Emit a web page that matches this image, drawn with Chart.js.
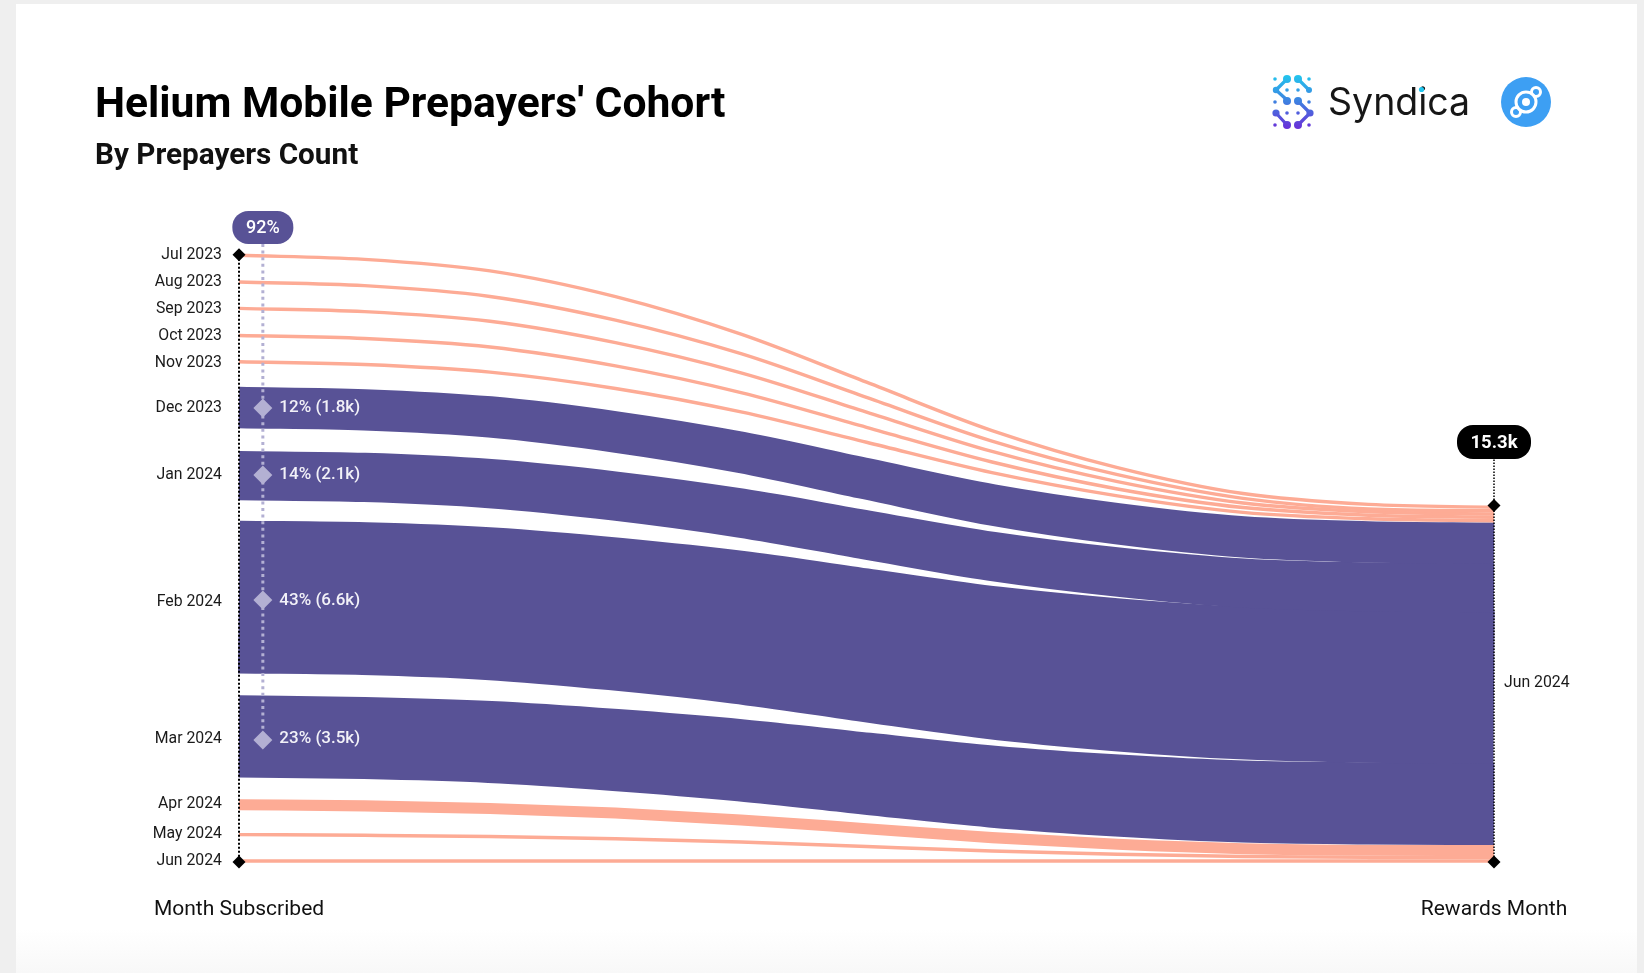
<!DOCTYPE html>
<html>
<head>
<meta charset="utf-8">
<title>Helium Mobile Prepayers' Cohort</title>
<script src="https://cdn.jsdelivr.net/npm/chart.js@4"></script>
<style>
    html, body { margin: 0; padding: 0; width: 1644px; height: 973px; overflow: hidden; background: #efefef; font-family: Roboto, sans-serif; }
    #card { position: absolute; left: 16px; top: 4px; width: 1621px; height: 969px; background: linear-gradient(#fff 0, #fff 925px, #f8f8f8 969px); }
    #graph { position: absolute; left: 0; top: 0; }
    h1 { position: absolute; left: 95px; top: 75px; margin: 0; font-size: 42.6px; line-height: 54px; font-weight: 700; color: #000; white-space: nowrap; }
    h2 { position: absolute; left: 95px; top: 135px; margin: 0; font-size: 29.7px; line-height: 38px; font-weight: 700; color: #111; white-space: nowrap; }
    #logos { position: absolute; left: 1260px; top: 65px; }
</style>
</head>
<body>
<div id="card"></div>
<canvas id="graph" width="1644" height="973"></canvas>
<h1>Helium Mobile Prepayers' Cohort</h1>
<h2>By Prepayers Count</h2>
<svg id="logos" width="300" height="80" viewBox="0 0 300 80">
    <defs>
        <linearGradient id="syn" gradientUnits="userSpaceOnUse" x1="30" y1="10" x2="30" y2="64">
            <stop offset="0" stop-color="#22c6ee"/>
            <stop offset="0.5" stop-color="#3f7fe0"/>
            <stop offset="1" stop-color="#6a2fd8"/>
        </linearGradient>
    </defs>
    <g fill="none" stroke="url(#syn)" stroke-width="3.2" stroke-linecap="round" stroke-linejoin="round">
        <path d="M27 14 L16 25 L27 35"/>
        <path d="M38 14 L49 25"/>
        <path d="M38 36 L50 48 L38 60"/>
        <path d="M16 48 L27 60"/>
    </g>
    <g fill="url(#syn)">
        <circle cx="27" cy="14" r="4"/><circle cx="38" cy="14" r="4"/>
        <circle cx="16" cy="25" r="3.2"/><circle cx="49" cy="25" r="3"/>
        <circle cx="27" cy="36" r="4"/><circle cx="38" cy="36" r="4"/>
        <circle cx="16" cy="48" r="3.6"/><circle cx="50" cy="48" r="3.6"/>
        <circle cx="27" cy="60" r="4"/><circle cx="38" cy="60" r="4"/>
        <circle cx="15" cy="14" r="1.8"/><circle cx="49" cy="14" r="1.8"/>
        <circle cx="15" cy="37" r="1.8"/><circle cx="49" cy="37" r="1.8"/>
        <circle cx="15" cy="60" r="1.8"/><circle cx="49" cy="60" r="1.8"/>
        <circle cx="27" cy="25" r="1.8"/><circle cx="38" cy="25" r="1.8"/>
        <circle cx="27" cy="48" r="1.8"/><circle cx="38" cy="48" r="1.8"/>
    </g>
    <text x="68" y="50" font-family="Inter, sans-serif" font-size="37.5" fill="#161616">Syndica</text>
    <circle cx="161.5" cy="24.5" r="2.6" fill="#22c6ee"/>
    <circle cx="266" cy="37" r="25" fill="#3d9ff3"/>
    <g fill="#3d9ff3" stroke="#fff" stroke-width="3">
        <circle cx="276" cy="27" r="4.5"/>
        <circle cx="256" cy="47" r="4.5"/>
        <circle cx="266" cy="37" r="10"/>
        <circle cx="266" cy="37" r="4" fill="#fff" stroke="none"/>
    </g>
</svg>
<script>
// x stations in percent of the way from subscribe month to rewards month
const stations = [0, 10, 20, 30, 40, 50, 60, 70, 80, 90, 100];

const months = ['Jul 2023', 'Aug 2023', 'Sep 2023', 'Oct 2023', 'Nov 2023', 'Dec 2023', 'Jan 2024', 'Feb 2024', 'Mar 2024', 'Apr 2024', 'May 2024', 'Jun 2024'];

// prepayers in each cohort, thousands
const counts = [0.15, 0.15, 0.15, 0.15, 0.15, 1.8, 2.14, 6.64, 3.57, 0.48, 0.15, 0.15];

// centre of each flow, thousands above the baseline
const jul23 = [26.38, 26.20, 25.70, 24.58, 22.95, 20.86, 18.76, 17.15, 16.02, 15.55, 15.42];
const aug23 = [25.22, 25.06, 24.59, 23.56, 22.10, 20.20, 18.30, 16.84, 15.81, 15.35, 15.27];
const sep23 = [24.07, 23.93, 23.51, 22.58, 21.27, 19.56, 17.85, 16.54, 15.61, 15.23, 15.13];
const oct23 = [22.89, 22.76, 22.39, 21.57, 20.41, 18.90, 17.39, 16.22, 15.41, 15.08, 14.99];
const nov23 = [21.75, 21.63, 21.30, 20.59, 19.57, 18.25, 16.93, 15.92, 15.20, 14.92, 14.84];
const dec23 = [19.76, 19.66, 19.35, 18.70, 17.81, 16.66, 15.53, 14.71, 14.14, 13.92, 13.86];
const jan24 = [16.80, 16.72, 16.45, 15.91, 15.17, 14.22, 13.29, 12.61, 12.13, 11.96, 11.93];
const feb24 = [11.52, 11.45, 11.23, 10.78, 10.19, 9.42, 8.67, 8.14, 7.78, 7.63, 7.59];
const mar24 = [5.46, 5.39, 5.22, 4.87, 4.42, 3.84, 3.28, 2.89, 2.63, 2.55, 2.52];
const apr24 = [2.49, 2.44, 2.33, 2.13, 1.83, 1.45, 1.06, 0.77, 0.58, 0.51, 0.50];
const may24 = [1.19, 1.16, 1.11, 1.01, 0.87, 0.67, 0.48, 0.34, 0.24, 0.20, 0.20];
const jun24 = [0.04, 0.04, 0.04, 0.04, 0.04, 0.04, 0.04, 0.04, 0.04, 0.04, 0.04];
const flows = [jul23, aug23, sep23, oct23, nov23, dec23, jan24, feb24, mar24, apr24, may24, jun24];

// where the month names sit on the left axis
const monthTicks = [26.39, 25.20, 24.04, 22.87, 21.71, 19.73, 16.81, 11.32, 5.33, 2.52, 1.20, 0.04];

// purple cohorts marked on the dotted line
const shareX = 1.9;
const shareLabels = ['12% (1.8k)', '14% (2.1k)', '43% (6.6k)', '23% (3.5k)'];
const shareY = [19.74, 16.83, 11.39, 5.30];
const shareLabelY = [19.74, 16.83, 11.34, 5.38];

const purple = '#585296';
const salmon = '#fdab95';
const lilac = '#b3b0d3';

function bandWidth(count) {
    return ctx => {
        const y = ctx.chart.scales.y;
        return y.getPixelForValue(0) - y.getPixelForValue(count);
    };
}

const datasets = [];

// markers on top of everything
datasets.push({
    data: shareY.map(y => ({x: shareX, y: y})),
    showLine: false, pointStyle: 'rectRot', pointRadius: 9.5, backgroundColor: lilac, borderWidth: 0, order: 1, clip: false
});
datasets.push({
    data: [{x: shareX, y: 26.87}, {x: shareX, y: shareY[3]}],
    borderColor: lilac, borderWidth: 3, borderDash: [3, 3.6], pointRadius: 0, order: 2, clip: false
});
datasets.push({
    data: [{x: 0, y: 26.4}, {x: 0, y: 0}, {x: 100, y: 15.5}, {x: 100, y: 0}],
    showLine: false, pointStyle: 'rectRot', pointRadius: 6.5, backgroundColor: '#000', borderWidth: 0, order: 3, clip: false
});
datasets.push({
    data: [{x: 0, y: 26.4}, {x: 0, y: 0}],
    borderColor: '#000', borderWidth: 2, borderDash: [2, 2], pointRadius: 0, order: 4, clip: false
});
datasets.push({
    data: [{x: 100, y: 17.5}, {x: 100, y: 0}],
    borderColor: '#000', borderWidth: 1.5, borderDash: [1.5, 1.5], pointRadius: 0, order: 4, clip: false
});

flows.forEach((flow, i) => {
    datasets.push({
        label: months[i],
        data: stations.map((x, j) => ({x: x, y: flow[j]})),
        borderColor: counts[i] > 1 ? purple : salmon,
        borderWidth: bandWidth(counts[i]),
        borderCapStyle: 'butt',
        cubicInterpolationMode: 'monotone',
        pointRadius: 0,
        order: 10 + i,
        clip: false
    });
});

// pills and the percent labels next to the diamonds
const annotations = {
    id: 'annotations',
    afterDatasetsDraw(chart) {
        const c = chart.ctx;
        const x = chart.scales.x;
        const y = chart.scales.y;

        function pill(px, py, w, h, fill, text, font) {
            c.beginPath();
            c.roundRect(px - w / 2, py - h / 2, w, h, 16);
            c.fillStyle = fill;
            c.fill();
            c.fillStyle = '#fff';
            c.font = font;
            c.textAlign = 'center';
            c.textBaseline = 'middle';
            c.fillText(text, px, py + 1);
        }

        c.save();
        pill(x.getPixelForValue(shareX), y.getPixelForValue(27.59), 61, 33, purple, '92%', '500 18px Roboto');
        pill(x.getPixelForValue(100), y.getPixelForValue(18.26), 74, 34, '#000', '15.3k', '700 18.5px Roboto');

        c.fillStyle = '#f2f1f8';
        c.font = '500 17px Roboto';
        c.textAlign = 'left';
        c.textBaseline = 'middle';
        shareLabels.forEach((label, i) => {
            c.fillText(label, x.getPixelForValue(shareX) + 16.5, y.getPixelForValue(shareLabelY[i]));
        });
        c.restore();
    }
};

const graph = document.getElementById('graph').getContext('2d');
new Chart(graph, {
    type: 'line',
    data: {datasets: datasets},
    plugins: [annotations],
    options: {
        responsive: false,
        animation: false,
        layout: {padding: {top: 241, bottom: 0, left: 0, right: 0}},
        plugins: {legend: {display: false}, tooltip: {enabled: false}},
        scales: {
            x: {
                type: 'linear', min: 0, max: 100,
                grid: {display: false, drawTicks: false},
                border: {display: false},
                afterFit: s => { s.height = 111; },
                afterBuildTicks: s => { s.ticks = [{value: 0}, {value: 100}]; },
                ticks: {
                    autoSkip: false, maxRotation: 0, padding: 35, color: '#111',
                    font: {family: 'Roboto', size: 21},
                    callback: v => (v === 0 ? 'Month Subscribed' : 'Rewards Month')
                }
            },
            y: {
                min: 0, max: 27,
                grid: {display: false, drawTicks: false},
                border: {display: false},
                afterFit: s => { s.width = 239; },
                afterBuildTicks: s => { s.ticks = monthTicks.map(v => ({value: v})); },
                ticks: {
                    autoSkip: false, padding: 17, color: '#1a1a1a',
                    font: {family: 'Roboto', size: 15.8},
                    callback: (v, i) => months[i]
                }
            },
            y2: {
                position: 'right', min: 0, max: 27,
                grid: {display: false, drawTicks: false},
                border: {display: false},
                afterFit: s => { s.width = 150; },
                afterBuildTicks: s => { s.ticks = [{value: 7.77}]; },
                ticks: {
                    autoSkip: false, padding: 10, color: '#1a1a1a',
                    font: {family: 'Roboto', size: 15.8},
                    callback: () => 'Jun 2024'
                }
            }
        }
    }
});
</script>
</body>
</html>
